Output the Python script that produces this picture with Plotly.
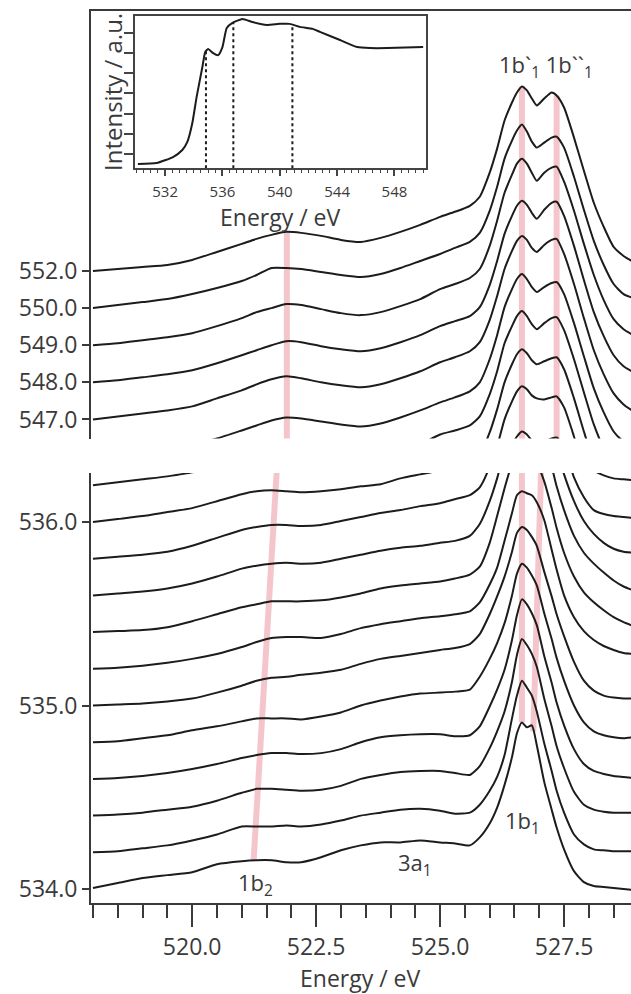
import numpy as np
import plotly.graph_objects as go

# ---------------------------------------------------------------------------
# Emission-energy grid (eV) shared by all RIXS spectra
# ---------------------------------------------------------------------------
energy = [518.0, 518.5, 519.0, 519.5, 520.0, 520.5, 521.0, 521.3, 521.6, 521.9,
          522.2, 522.6, 523.0, 523.4, 523.8, 524.2, 524.6, 525.0, 525.3, 525.6,
          525.8, 526.0, 526.15, 526.3, 526.45, 526.55, 526.65, 526.75, 526.85, 526.95,
          527.1, 527.25, 527.35, 527.5, 527.7, 527.9, 528.1, 528.3, 528.5, 528.7, 528.9]

# Vertical offset between consecutive spectra (a.u.)
STEP = 37

# ---------------------------------------------------------------------------
# Upper panel: high excitation energies (eV), lowest first
# ---------------------------------------------------------------------------
high_exc = ["542.0", "543.0", "544.0", "545.0", "546.0",
            "547.0", "548.0", "549.0", "550.0", "552.0"]
high_spectra = [
    [0, 2, 5, 8, 12, 19, 26, 31, 36, 39, 38, 35, 32, 30, 34, 40, 47, 55, 60, 66, 74,
     95, 117, 142, 159, 168, 173, 170, 164, 160, 163, 166, 167, 156, 128, 96, 66, 43, 25, 15, 9],
    [0, 2, 5, 8, 12, 19, 26, 31, 36, 39, 38, 35, 32, 30, 34, 40, 47, 56, 61, 67, 76,
     98, 121, 148, 166, 176, 181, 178, 172, 169, 168, 170, 171, 160, 131, 98, 67, 43, 25, 15, 9],
    [0, 2, 5, 8, 12, 19, 26, 31, 36, 39, 38, 35, 32, 30, 34, 40, 47, 56, 61, 67, 76,
     98, 121, 148, 166, 176, 181, 177, 170, 166, 169, 172, 173, 161, 132, 99, 68, 44, 25, 15, 9],
    [0, 2, 5, 8, 12, 19, 27, 32, 37, 40, 39, 36, 33, 31, 35, 41, 49, 59, 63, 68, 77,
     99, 122, 150, 167, 177, 182, 177, 169, 164, 170, 175, 176, 163, 134, 101, 69, 45, 26, 15, 9],
    [0, 2, 5, 8, 12, 18, 26, 31, 36, 39, 38, 35, 32, 30, 33, 39, 46, 54, 59, 65, 74,
     97, 121, 149, 167, 177, 182, 177, 169, 164, 169, 173, 174, 162, 133, 100, 68, 44, 25, 15, 9],
    [0, 3, 6, 9, 13, 21, 29, 35, 40, 43, 41, 37, 34, 32, 35, 41, 48, 57, 62, 68, 77,
     99, 123, 150, 168, 178, 183, 179, 171, 167, 174, 179, 180, 165, 135, 101, 69, 45, 26, 15, 8],
    [0, 2, 5, 8, 12, 19, 27, 32, 37, 41, 40, 36, 33, 31, 34, 40, 47, 56, 61, 66, 75,
     97, 121, 148, 166, 176, 181, 177, 169, 163, 172, 179, 180, 166, 136, 102, 70, 46, 27, 16, 10],
    [0, 2, 5, 8, 12, 19, 27, 33, 37, 41, 40, 36, 32, 30, 33, 39, 46, 56, 61, 67, 76,
     99, 124, 152, 170, 181, 186, 181, 172, 164, 172, 177, 178, 163, 134, 101, 70, 45, 26, 16, 10],
    [0, 3, 6, 9, 14, 20, 27, 33, 40, 40, 39, 36, 33, 31, 34, 40, 47, 54, 60, 66, 75,
     97, 121, 149, 167, 177, 183, 176, 166, 160, 165, 170, 171, 160, 131, 98, 67, 43, 24, 14, 10],
    [0, 2, 4, 6, 11, 19, 27, 32, 36, 39, 38, 35, 31, 29, 33, 39, 46, 54, 59, 65, 74,
     98, 122, 150, 168, 178, 184, 180, 172, 165, 172, 178, 175, 163, 133, 100, 68, 44, 24, 15, 9],
]
high_ticks = ["547.0", "548.0", "549.0", "550.0", "552.0"]

# ---------------------------------------------------------------------------
# Lower panel: excitation energies 534.0 ... 536.2 eV
# ---------------------------------------------------------------------------
low_exc = ["534.0", "534.2", "534.4", "534.6", "534.8", "535.0",
           "535.2", "535.4", "535.6", "535.8", "536.0", "536.2"]
low_spectra = [
    [1, 6, 11, 14, 17, 25, 28, 29, 29, 27, 27, 32, 39, 44, 47, 47, 49, 47, 46, 44, 52,
     66, 82, 105, 133, 157, 168, 163, 165, 145, 108, 80, 62, 40, 18, 7, 3, 2, 1, 0, -1],
    [0, 1, 4, 7, 12, 18, 26, 26, 26, 27, 26, 28, 32, 37, 40, 43, 44, 42, 39, 40, 48,
     62, 76, 98, 135, 158, 173, 166, 158, 142, 110, 82, 62, 40, 18, 8, 3, 2, 1, 1, 1],
    [0, 1, 3, 6, 9, 15, 23, 27, 27, 26, 25, 26, 30, 37, 41, 44, 45, 45, 43, 41, 50,
     68, 85, 105, 135, 162, 178, 172, 163, 150, 118, 90, 70, 48, 24, 11, 6, 4, 3, 3, 3],
    [0, 1, 3, 6, 10, 15, 21, 24, 26, 26, 25, 26, 30, 37, 42, 44, 45, 45, 43, 44, 53,
     73, 90, 110, 140, 165, 181, 176, 167, 155, 124, 97, 77, 54, 30, 15, 8, 5, 3, 2, 1],
    [0, 1, 4, 7, 12, 16, 21, 24, 24, 24, 23, 26, 30, 37, 42, 46, 49, 50, 51, 53, 66,
     84, 100, 120, 148, 170, 180, 176, 168, 158, 130, 104, 85, 62, 37, 20, 11, 7, 5, 4, 5],
    [0, 1, 2, 4, 7, 13, 20, 25, 28, 29, 31, 33, 36, 42, 47, 50, 53, 56, 58, 62, 72,
     92, 110, 130, 155, 174, 180, 177, 170, 161, 135, 110, 92, 70, 44, 25, 15, 10, 8, 7, 7],
    [0, 1, 3, 6, 10, 15, 22, 27, 31, 32, 32, 31, 35, 41, 45, 48, 51, 53, 55, 58, 67,
     85, 102, 129, 157, 175, 179, 177, 175, 168, 150, 120, 100, 74, 52, 38, 29, 23, 19, 16, 15],
    [0, 1, 2, 5, 11, 18, 25, 28, 31, 31, 31, 32, 35, 39, 44, 47, 49, 51, 54, 58, 66,
     90, 117, 145, 170, 180, 183, 180, 176, 170, 152, 125, 105, 80, 56, 40, 30, 22, 15, 10, 6],
    [0, 2, 4, 7, 12, 19, 27, 30, 32, 33, 32, 33, 37, 41, 45, 48, 50, 53, 55, 60, 72,
     95, 118, 146, 170, 181, 183, 181, 177, 172, 155, 130, 110, 86, 60, 43, 32, 23, 15, 9, 5],
    [0, 2, 4, 7, 13, 21, 29, 32, 34, 34, 33, 34, 38, 42, 46, 49, 53, 56, 60, 64, 72,
     93, 118, 146, 170, 180, 183, 181, 177, 172, 155, 130, 110, 85, 58, 38, 25, 16, 10, 7, 6],
    [0, 3, 6, 10, 14, 21, 28, 31, 32, 31, 30, 31, 33, 36, 38, 44, 48, 52, 56, 62, 72,
     93, 118, 146, 170, 180, 183, 181, 177, 172, 155, 128, 105, 78, 45, 25, 12, 8, 6, 5, 4],
    [0, 3, 6, 9, 13, 21, 29, 33, 35, 35, 34, 35, 37, 40, 44, 48, 52, 56, 60, 65, 75,
     95, 120, 148, 170, 180, 183, 181, 177, 172, 156, 130, 108, 82, 50, 28, 15, 10, 7, 6, 5],
]
low_ticks = ["534.0", "535.0", "536.0"]

# Marked emission features (eV)
feat_1b2_high = 521.91
feat_1b1p = 526.65
feat_1b1pp = 527.35
feat_1b2_low = (521.24, 521.73)     # at 534.0 eV and at 536.2 eV excitation
feat_1b1pp_low = (526.88, 527.12)

# ---------------------------------------------------------------------------
# Inset: O K-edge absorption spectrum
# ---------------------------------------------------------------------------
xas_energy = [530.1, 531.4, 532.55, 533.2, 533.55, 533.9, 534.2, 534.6, 534.8, 535.0,
              535.35, 535.7, 536.0, 536.3, 536.7, 537.4, 538.1, 539.1, 540.0, 540.7,
              541.4, 542.3, 542.8, 544.2, 545.4, 546.3, 547.5, 550.0]
xas_intensity = [0.50, 0.55, 0.85, 1.20, 1.60, 2.54, 3.83, 5.31, 6.06, 6.20,
                 6.00, 5.90, 6.30, 7.25, 7.50, 7.69, 7.54, 7.40, 7.45, 7.45,
                 7.30, 7.20, 7.05, 6.65, 6.30, 6.25, 6.25, 6.30]
xas_marks = [534.85, 536.76, 540.88]

# ---------------------------------------------------------------------------
INK = "#1c1c1c"
AXIS = "#3a3a3a"
TEXT = "#3a3a3a"
BAND = "rgba(230, 110, 128, 0.40)"
FONT = "Open Sans"

W, H = 631, 994
X_RANGE = [517.96, 528.85]
TOP_RANGE = [166.0, 592.2]
LOW_RANGE = [-14.1, 419.4]
CURVE = dict(color=INK, width=2, shape="spline", smoothing=0.6)


def px_x(p):
    return p / W


def px_y(p):
    return 1 - p / H


fig = go.Figure()


def band(xs, ys, xa, ya):
    fig.add_trace(go.Scatter(x=xs, y=ys, mode="lines", line=dict(color=BAND, width=6),
                             xaxis=xa, yaxis=ya, hoverinfo="skip", showlegend=False))


# highlight bands, upper panel
top_curve = np.array(high_spectra[-1]) + STEP * (len(high_spectra) - 1)
for e in (feat_1b2_high, feat_1b1p, feat_1b1pp):
    band([e, e], [np.interp(e, energy, top_curve), TOP_RANGE[0] - 30], "x2", "y2")

# highlight bands, lower panel
first = np.array(low_spectra[0])
last = np.array(low_spectra[-1]) + STEP * (len(low_spectra) - 1)
band(list(feat_1b2_low),
     [np.interp(feat_1b2_low[0], energy, first), np.interp(feat_1b2_low[1], energy, last)], "x", "y")
band([feat_1b1p, feat_1b1p],
     [np.interp(feat_1b1p, energy, first), np.interp(feat_1b1p, energy, last)], "x", "y")
band(list(feat_1b1pp_low),
     [np.interp(feat_1b1pp_low[0], energy, first), np.interp(feat_1b1pp_low[1], energy, last)], "x", "y")

# stacked spectra
for i, (lab, s) in enumerate(zip(high_exc, high_spectra)):
    fig.add_trace(go.Scatter(x=energy, y=np.array(s) + i * STEP, mode="lines", name=lab,
                             line=CURVE, xaxis="x2", yaxis="y2", showlegend=False))
for i, (lab, s) in enumerate(zip(low_exc, low_spectra)):
    fig.add_trace(go.Scatter(x=energy, y=np.array(s) + i * STEP, mode="lines", name=lab,
                             line=CURVE, xaxis="x", yaxis="y", showlegend=False))

# inset XAS spectrum with dotted markers
for e in xas_marks:
    fig.add_trace(go.Scatter(x=[e, e], y=[0, np.interp(e, xas_energy, xas_intensity)],
                             mode="lines", line=dict(color=INK, width=2, dash="dot"),
                             xaxis="x3", yaxis="y3", showlegend=False))
fig.add_trace(go.Scatter(x=xas_energy, y=xas_intensity, mode="lines",
                         line=dict(color=INK, width=2, shape="spline", smoothing=0.5),
                         xaxis="x3", yaxis="y3", showlegend=False))

tickfont = dict(family=FONT, size=23, color=TEXT)
xdom = [px_x(91), 1.0]

fig.update_layout(
    width=W, height=H, margin=dict(l=0, r=0, t=0, b=0),
    paper_bgcolor="white", plot_bgcolor="white",
    font=dict(family=FONT, color=TEXT),
    xaxis=dict(domain=xdom, range=X_RANGE, anchor="y", showline=True, linecolor=AXIS,
               linewidth=2, ticks="outside", tick0=520, dtick=2.5, ticklen=22,
               tickwidth=2, tickcolor=AXIS, tickformat=".1f", tickfont=tickfont,
               ticklabelstandoff=0,
               minor=dict(ticks="outside", dtick=0.5, tick0=518, ticklen=13,
                          tickwidth=2, tickcolor=AXIS, showgrid=False),
               showgrid=False, zeroline=False),
    yaxis=dict(domain=[px_y(903), px_y(473)], range=LOW_RANGE, anchor="x",
               showline=True, linecolor=AXIS, linewidth=2, ticks="outside",
               ticklen=7, tickwidth=2, tickcolor=AXIS,
               tickvals=[0, 5 * STEP, 10 * STEP], ticktext=low_ticks,
               tickfont=tickfont, showgrid=False, zeroline=False),
    xaxis2=dict(domain=xdom, range=X_RANGE, anchor="y2", side="top", showline=True,
                linecolor=AXIS, linewidth=2, ticks="", showticklabels=False,
                showgrid=False, zeroline=False),
    yaxis2=dict(domain=[px_y(438.5), px_y(11)], range=TOP_RANGE, anchor="x2",
                showline=True, linecolor=AXIS, linewidth=2, ticks="outside",
                ticklen=7, tickwidth=2, tickcolor=AXIS,
                tickvals=[5 * STEP, 6 * STEP, 7 * STEP, 8 * STEP, 9 * STEP],
                ticktext=high_ticks, tickfont=tickfont, showgrid=False, zeroline=False),
    xaxis3=dict(domain=[px_x(135), px_x(426)], range=[529.9, 550.2], anchor="y3",
                showline=True, mirror=True, linecolor="#444", linewidth=1.5,
                ticks="outside", tick0=532, dtick=4, ticklen=6, tickwidth=1.5,
                tickcolor="#444", tickfont=dict(family=FONT, size=15, color=TEXT),
                ticklabelstandoff=3,
                minor=dict(ticks="outside", dtick=0.5, ticklen=3, tickwidth=1,
                           tickcolor="#444", showgrid=False),
                showgrid=False, zeroline=False),
    yaxis3=dict(domain=[px_y(168), px_y(16)], range=[0.306, 7.84], anchor="x3",
                showline=True, mirror=True, linecolor="#444", linewidth=1.5,
                ticks="outside", tick0=1, dtick=1, ticklen=9, tickwidth=1.5,
                tickcolor="#444", showticklabels=False, showgrid=False, zeroline=False),
)

ann = []
ann.append(dict(text="Energy / eV", x=px_x(360), y=px_y(978), xref="paper", yref="paper",
                showarrow=False, font=dict(size=23, color=TEXT), xanchor="center",
                yanchor="middle"))
ann.append(dict(text="Energy / eV", x=px_x(280), y=px_y(217), xref="paper", yref="paper",
                showarrow=False, font=dict(size=23, color=TEXT), xanchor="center",
                yanchor="middle"))
ann.append(dict(text="Intensity / a.u.", x=px_x(113), y=px_y(92), xref="paper",
                yref="paper", showarrow=False, textangle=-90,
                font=dict(size=24, color=TEXT), xanchor="center", yanchor="middle"))
# band labels
ann.append(dict(text="1b`<sub>1</sub> 1b``<sub>1</sub>", x=527.13, y=537, xref="x2",
                yref="y2", showarrow=False, font=dict(size=22, color=TEXT)))
ann.append(dict(text="1b<sub>2</sub>", x=521.27, y=5, xref="x", yref="y",
                showarrow=False, font=dict(size=22, color=TEXT)))
ann.append(dict(text="3a<sub>1</sub>", x=524.49, y=25, xref="x", yref="y",
                showarrow=False, font=dict(size=22, color=TEXT)))
ann.append(dict(text="1b<sub>1</sub>", x=526.67, y=68, xref="x", yref="y",
                showarrow=False, font=dict(size=22, color=TEXT)))
fig.update_layout(annotations=ann)

fig.write_html("out.html")
